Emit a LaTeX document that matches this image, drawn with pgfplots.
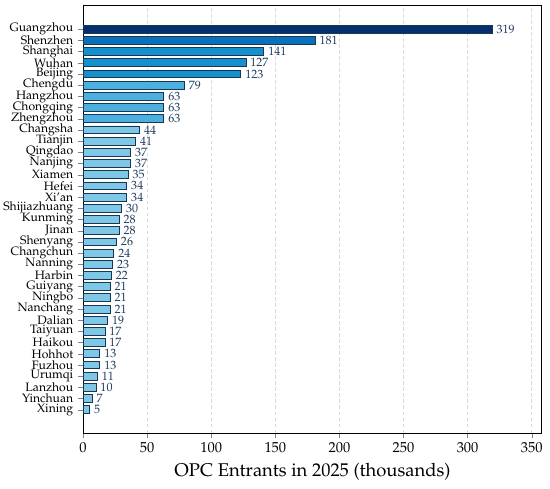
\documentclass[border=0pt]{standalone}
\usepackage[T1]{fontenc}
\usepackage{mathpazo}
\usepackage{pgfplots}
\pgfplotsset{compat=1.18}
\definecolor{c1}{RGB}{6,48,108}
\definecolor{c2}{RGB}{10,112,186}
\definecolor{c3}{RGB}{20,144,205}
\definecolor{c4}{RGB}{76,176,222}
\definecolor{c5}{RGB}{126,199,230}
\definecolor{edge}{RGB}{25,55,85}
\definecolor{lab}{RGB}{30,60,95}
\newcommand{\lf}{\fontsize{10.1}{10.1}\selectfont}
\newcommand{\nf}{\fontsize{10}{10}\selectfont}
\begin{document}
\begin{tikzpicture}
\begin{axis}[
  name=ax,
  scale only axis,
  width=381pt, height=355pt,
  xmin=0, xmax=358,
  ymin=-2.1, ymax=36.1,
  xtick={0,50,...,350},
  ytick={0,...,34},
  yticklabels={Xining,Yinchuan,Lanzhou,Urumqi,Fuzhou,Hohhot,Haikou,Taiyuan,Dalian,Nanchang,Ningbo,Guiyang,Harbin,Nanning,Changchun,Shenyang,Jinan,Kunming,Shijiazhuang,{Xi'an},Hefei,Xiamen,Nanjing,Qingdao,Tianjin,Changsha,Zhengzhou,Chongqing,Hangzhou,Chengdu,Beijing,Wuhan,Shanghai,Shenzhen,Guangzhou},
  tick align=outside,
  xtick pos=bottom, ytick pos=left,
  major tick length=4pt,
  xmajorgrids, grid style={densely dashed, black!15},
  y tick label style={font=\lf, inner ysep=0pt, inner xsep=4pt},
  x tick label style={font=\fontsize{12}{12}\selectfont, inner sep=3.5pt},
  xlabel={OPC Entrants in 2025 (thousands)},
  xlabel style={font=\fontsize{15.3}{16}\selectfont, yshift=-2pt},
  axis line style={black, line width=0.8pt},
  xbar, bar width=0.7, bar shift=0pt,
  every axis plot/.append style={draw=edge, line width=0.6pt},
  nodes near coords,
  nodes near coords style={font=\nf, text=lab, anchor=west, inner xsep=3.5pt, inner ysep=0pt},
]
\addplot[fill=c1] coordinates {(319,34)};
\addplot[fill=c2] coordinates {(181,33)};
\addplot[fill=c3] coordinates {(141,32) (127,31) (123,30)};
\addplot[fill=c4] coordinates {(79,29) (63,28) (63,27) (63,26)};
\addplot[fill=c5] coordinates {(44,25) (41,24) (37,23) (37,22) (35,21) (34,20) (34,19) (30,18) (28,17) (28,16) (26,15) (24,14) (23,13) (22,12) (21,11) (21,10) (21,9) (19,8) (17,7) (17,6) (13,5) (13,4) (11,3) (10,2) (7,1) (5,0)};
\end{axis}
\pgfresetboundingbox
\path ([xshift=-69pt,yshift=-46pt]ax.south west) rectangle ([xshift=6.7pt,yshift=4.7pt]ax.north east);
\end{tikzpicture}
\end{document}
